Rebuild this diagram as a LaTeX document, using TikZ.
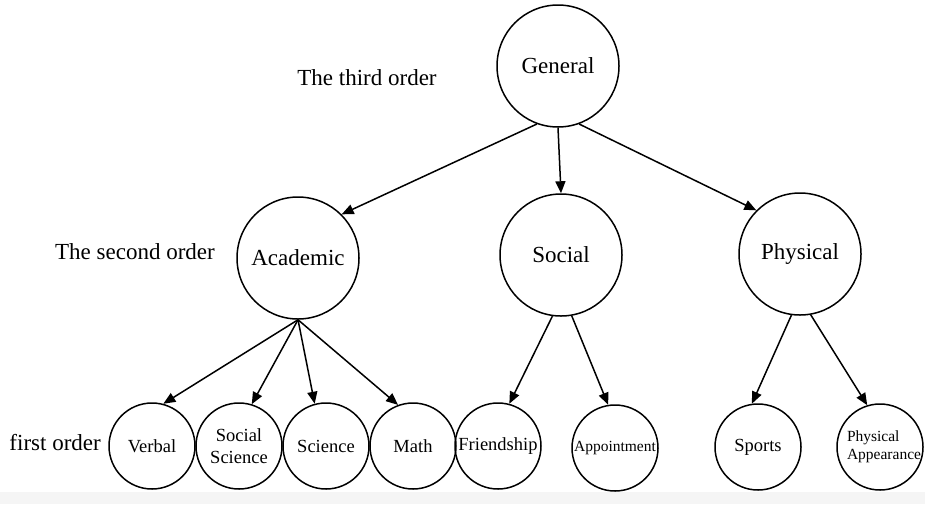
\documentclass[tikz,border=0pt]{standalone}
\usepackage{fontspec}
\setmainfont{Liberation Serif}
\usetikzlibrary{arrows.meta}

\tikzset{
	big/.style   = {circle, draw, line width=1.5pt, minimum size=122pt, inner sep=0pt},
	small/.style = {circle, draw, line width=1.5pt, minimum size=86pt, inner sep=0pt},
	bigtxt/.style   = {font=\fontsize{23}{26}\selectfont, inner sep=0pt},
	smalltxt/.style = {font=\fontsize{18.5}{22}\selectfont, inner sep=0pt, align=center},
	tinytxt/.style  = {font=\fontsize{15.5}{18}\selectfont, inner sep=0pt},
	arr/.style   = {-{Triangle[length=12pt,width=10pt]}, line width=1.5pt}
}

\begin{document}
\begin{tikzpicture}[x=1pt, y=-1pt]
	\useasboundingbox (0,0) rectangle (925,504);
	\fill[black!4] (0,492) rectangle (925,504);

	% order labels
	\node (O3) at (367, 78)	[bigtxt]	{The third order};
	\node (O2) at (215,252)	[bigtxt, anchor=east]	{The second order};
	\node (O1) at (101,443)	[bigtxt, anchor=east]	{first order};

	% third order
	\node (General)  at (558, 66)	[big, label={[bigtxt]center:General}]	{};

	% second order
	\node (Academic) at (298,258)	[big, label={[bigtxt]center:Academic}]	{};
	\node (Social)   at (561,255)	[big, label={[bigtxt]center:Social}]	{};
	\node (Physical) at (800,254)	[big, label={[bigtxt]center:Physical}]	{};

	% first order
	\node (Verbal)   at (152,446)	[small, label={[smalltxt]center:Verbal}]	{};
	\node (SocSci)   at (239,446)	[small, label={[smalltxt]center:Social\\Science}]	{};
	\node (Science)  at (326,446)	[small, label={[smalltxt]center:Science}]	{};
	\node (Math)     at (413,446)	[small, label={[smalltxt]center:Math}]	{};
	\node (Friend)   at (498,446)	[small, label={[smalltxt]center:Friendship}]	{};
	\node (Appoint)  at (615,448)	[small, label={[tinytxt]center:Appointment}]	{};
	\node (Sports)   at (758,447)	[small, label={[smalltxt]center:Sports}]	{};
	\node (Appear)   at (880,447)	[small, label={[tinytxt, align=left, xshift=4pt]center:Physical\\Appearance}]	{};

	\draw[arr] (General.250) -- (Academic.45);
	\draw[arr] (General.south) -- (Social.north);
	\draw[arr] (General.290) -- (Physical.135);

	\draw[arr] (Academic.south) -- (Verbal.75);
	\draw[arr] (Academic.south) -- (SocSci.73);
	\draw[arr] (Academic.south) -- (Science.105);
	\draw[arr] (Academic.south) -- (Math.110);

	\draw[arr] (Social.262) -- (Friend.75);
	\draw[arr] (Social.280) -- (Appoint.99);

	\draw[arr] (Physical.262) -- (Sports.98);
	\draw[arr] (Physical.280) -- (Appear.107);
\end{tikzpicture}
\end{document}
